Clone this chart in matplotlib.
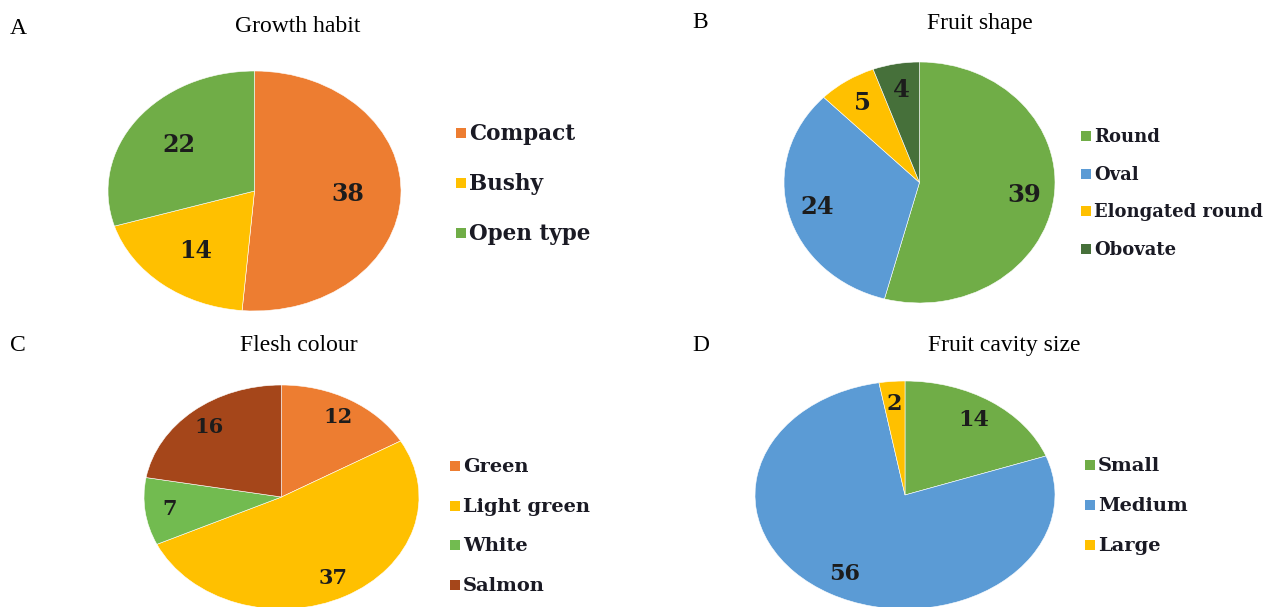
import matplotlib
matplotlib.use("Agg")
import matplotlib.pyplot as plt

W, H = 1271, 607

# ---- data ----
growth_labels = ["Compact", "Bushy", "Open type"]
growth_values = [38, 14, 22]
shape_labels = ["Round", "Oval", "Elongated round", "Obovate"]
shape_values = [39, 24, 5, 4]
flesh_labels = ["Green", "Light green", "White", "Salmon"]
flesh_values = [12, 37, 7, 16]
cavity_labels = ["Small", "Medium", "Large"]
cavity_values = [14, 56, 2]

titles = ["Growth habit", "Fruit shape", "Flesh colour", "Fruit cavity size"]
letters = ["A", "B", "C", "D"]

# ---- styles ----
ORANGE = "#ED7D31"
YELLOW = "#FFC000"
GREEN = "#70AD47"
BLUE = "#5B9BD5"
DKGREEN = "#46703A"
SALMON = "#A5461A"
LTGREEN = "#72BB50"

panels = [
    dict(labels=growth_labels, values=growth_values, colors=[ORANGE, YELLOW, GREEN],
         box=(108, 71, 293, 240), pctd=0.64, vsize=17, lsize=15.5,
         leg=(456, 134, 50), title=(298, 27), letter=(10, 28)),
    dict(labels=shape_labels, values=shape_values, colors=[GREEN, BLUE, YELLOW, DKGREEN],
         box=(784, 62, 271, 241), pctd=0.78, vsize=17.5, lsize=13,
         leg=(1081, 137, 37.7), title=(980, 23), letter=(692, 23)),
    dict(labels=flesh_labels, values=flesh_values, colors=[ORANGE, YELLOW, LTGREEN, SALMON],
         box=(144, 385, 275, 224), pctd=0.82, vsize=15, lsize=14,
         leg=(450, 467, 39.7), title=(299, 345), letter=(10, 345)),
    dict(labels=cavity_labels, values=cavity_values, colors=[GREEN, BLUE, YELLOW],
         box=(755, 381, 300, 228), pctd=0.80, vsize=16, lsize=14,
         leg=(1085, 466, 40), title=(1004, 345), letter=(692, 345)),
]

fig = plt.figure(figsize=(W / 100, H / 100), dpi=100)
fig.patch.set_facecolor("white")

SERIF = ["Liberation Serif", "DejaVu Serif"]
BOLDSERIF = ["DejaVu Serif"]


def fx(x):
    return x / W


def fy(y):
    return 1 - y / H


for i, p in enumerate(panels):
    l, t, w, h = p["box"]
    ax = fig.add_axes([fx(l), fy(t + h), w / W, h / H])
    total = sum(p["values"])
    wedges, texts, autotexts = ax.pie(
        p["values"], colors=p["colors"], startangle=90, counterclock=False,
        autopct=lambda pct, tot=total: f"{round(pct * tot / 100):d}",
        pctdistance=p["pctd"],
        wedgeprops=dict(edgecolor="white", linewidth=0.4),
        textprops=dict(family=BOLDSERIF, fontweight="bold", fontsize=p["vsize"], color="#1c1c1c"),
    )
    ax.set_aspect("auto")
    ax.set_xlim(-1, 1)
    ax.set_ylim(-1, 1)
    ax.axis("off")

    # legend
    lx, ly, dy = p["leg"]
    for j, (lab, col) in enumerate(zip(p["labels"], p["colors"])):
        yy = ly + j * dy
        fig.patches.append(plt.Rectangle((fx(lx), fy(yy + 4)), 10 / W, 10 / H,
                                         transform=fig.transFigure, facecolor=col,
                                         edgecolor="none"))
        fig.text(fx(lx + 13), fy(yy), lab, family=BOLDSERIF, fontweight="bold",
                 fontsize=p["lsize"], color="#1a1a24", ha="left", va="center")

    # title and letter
    tx, ty = p["title"]
    fig.text(fx(tx), fy(ty), titles[i], family=SERIF, fontsize=17, ha="center", va="center")
    lx2, ly2 = p["letter"]
    fig.text(fx(lx2), fy(ly2), letters[i], family=SERIF, fontsize=17, ha="left", va="center")

fig.savefig("out.png", dpi=100, facecolor="white")
